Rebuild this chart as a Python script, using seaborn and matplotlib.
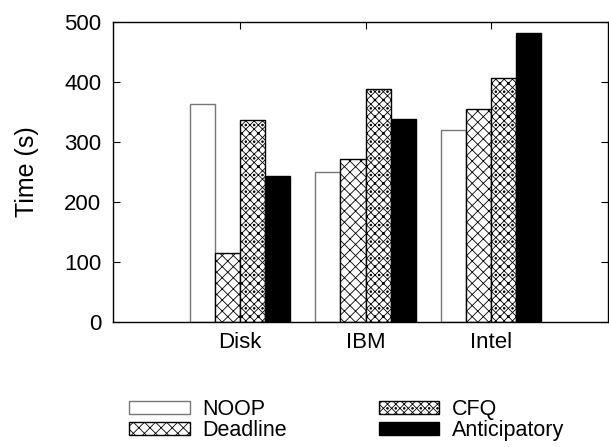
import pandas as pd
import matplotlib
matplotlib.use("Agg")
import matplotlib.pyplot as plt
import seaborn as sns

# valeurs
systems = ["Disk", "IBM", "Intel"]
schedulers = ["NOOP", "Deadline", "CFQ", "Anticipatory"]
noop = [364, 250, 320]
deadline = [115, 272, 355]
cfq = [336, 388, 406]
anticipatory = [244, 338, 482]

df = pd.DataFrame({
    "system": systems * 4,
    "scheduler": [s for s in schedulers for _ in systems],
    "time": noop + deadline + cfq + anticipatory,
})

sns.set_style("white")
plt.rcParams["font.family"] = ["Liberation Sans", "DejaVu Sans"]
plt.rcParams["hatch.linewidth"] = 0.6
plt.rcParams["text.color"] = "black"
plt.rcParams["axes.labelcolor"] = "black"
plt.rcParams["xtick.color"] = "black"
plt.rcParams["ytick.color"] = "black"

fig = plt.figure(figsize=(6.09, 4.47), dpi=100)
ax = fig.add_axes([113 / 609, 1 - 322 / 447, 495 / 609, 300 / 447])

sns.barplot(data=df, x="system", y="time", hue="scheduler", order=systems,
            hue_order=schedulers, width=0.8, palette=["white"] * 4,
            legend=False, ax=ax, saturation=1)

styles = {
    "NOOP": dict(facecolor="white", edgecolor="#777777", hatch=None),
    "Deadline": dict(facecolor="white", edgecolor="black", hatch="xxx"),
    "CFQ": dict(facecolor="white", edgecolor="black", hatch="xxxx.."),
    "Anticipatory": dict(facecolor="black", edgecolor="black", hatch=None),
}
for cont, name in zip(ax.containers, schedulers):
    for bar in cont.patches:
        bar.set_facecolor(styles[name]["facecolor"])
        bar.set_edgecolor(styles[name]["edgecolor"])
        bar.set_hatch(styles[name]["hatch"])
        bar.set_linewidth(1.0)

ax.set_xlim(-1.012, 2.932)
ax.set_ylim(0, 500)
ax.set_yticks([0, 100, 200, 300, 400, 500])
ax.set_xlabel("")
ax.set_ylabel("Time (s)", fontsize=18, labelpad=18)
ax.tick_params(axis="both", direction="in", length=5, labelsize=16,
               top=True, right=True, bottom=True, left=True, color="black")
ax.tick_params(axis="y", pad=8.5)
ax.tick_params(axis="x", pad=7)
for sp in ax.spines.values():
    sp.set_color("black")
    sp.set_linewidth(1.0)

handles = [c.patches[0] for c in ax.containers]
fig.legend(handles, schedulers, ncol=2, loc="upper left",
           bbox_to_anchor=(110 / 609, 1 - 380 / 447), frameon=False,
           fontsize=15.5, handlelength=2.8, handleheight=0.55,
           handletextpad=0.6, columnspacing=4.25, labelspacing=-0.02)

fig.savefig("out.png", dpi=100)
